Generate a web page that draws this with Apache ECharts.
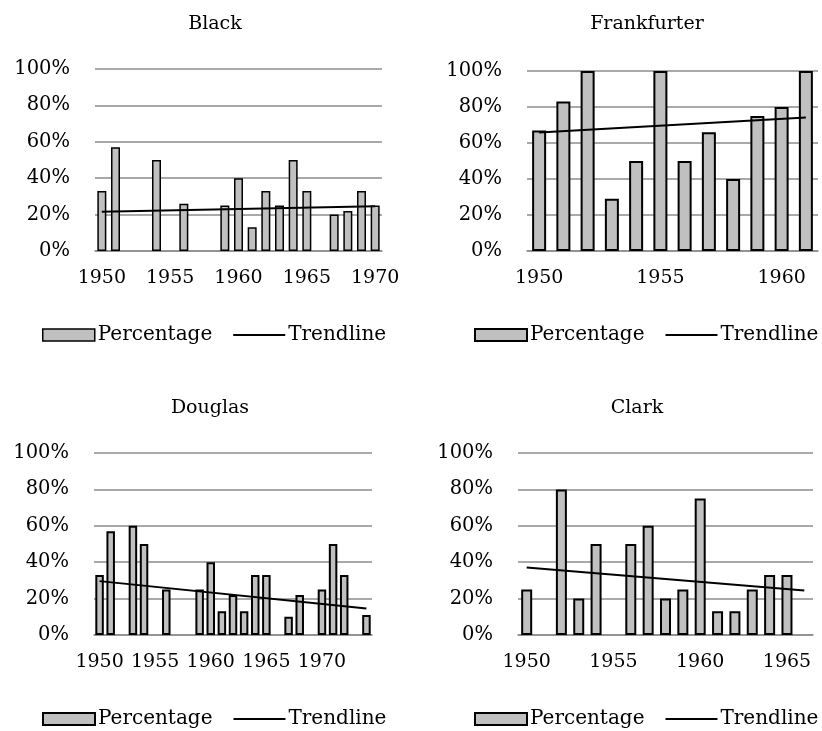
<!DOCTYPE html>
<html>
<head>
<meta charset="utf-8">
<script src="https://cdn.jsdelivr.net/npm/echarts@6/dist/echarts.min.js"></script>
<style>
  html, body { margin: 0; padding: 0; background: #fff; }
  #main { width: 822px; height: 731px; }
</style>
</head>
<body>
<div id="main"></div>
<script>
// years on each panel
var blackYears = ['1950','1951','1952','1953','1954','1955','1956','1957','1958','1959','1960',
  '1961','1962','1963','1964','1965','1966','1967','1968','1969','1970'];
var frankYears = ['1950','1951','1952','1953','1954','1955','1956','1957','1958','1959','1960','1961'];
var douglasYears = ['1950','1951','1952','1953','1954','1955','1956','1957','1958','1959','1960',
  '1961','1962','1963','1964','1965','1966','1967','1968','1969','1970','1971','1972','1973','1974'];
var clarkYears = ['1950','1951','1952','1953','1954','1955','1956','1957','1958','1959','1960',
  '1961','1962','1963','1964','1965','1966'];

// percentage per year (null = no bar)
var blackValues = [33, 57, null, null, 50, null, 26, null, null, 25, 40,
  13, 33, 25, 50, 33, null, 20, 22, 33, 25];
var frankValues = [67, 83, 100, 29, 50, 100, 50, 66, 40, 75, 80, 100];
var douglasValues = [33, 57, null, 60, 50, null, 25, null, null, 25, 40,
  13, 22, 13, 33, 33, null, 10, 22, null, 25, 50, 33, null, 11];
var clarkValues = [25, null, 80, 20, 50, null, 50, 60, 20, 25, 75,
  13, 13, 25, 33, 33, null];

// trendline start / end values
var blackTrend = [21.5, 24.6];
var frankTrend = [65.9, 74.2];
var douglasTrend = [29.6, 14.6];
var clarkTrend = [37.1, 24.5];

var yTicks = [0, 20, 40, 60, 80, 100];

var FONT = 'DejaVu Serif';
var chart = echarts.init(document.getElementById('main'));

var panels = [
  { name: 'Black', years: blackYears, values: blackValues, trend: blackTrend,
    grid: { left: 95, top: 69, width: 287, height: 182 }, titleX: 210, titleY: 10,
    barWidth: 9, border: 1.5, legend: { left: 37, top: 320 } },
  { name: 'Frankfurter', years: frankYears, values: frankValues, trend: frankTrend,
    grid: { left: 527, top: 71, width: 291, height: 180 }, titleX: 642, titleY: 10,
    barWidth: 14, border: 2, legend: { left: 469, top: 320 } },
  { name: 'Douglas', years: douglasYears, values: douglasValues, trend: douglasTrend,
    grid: { left: 94, top: 453, width: 278, height: 182 }, titleX: 205, titleY: 394,
    barWidth: 8.5, border: 2, legend: { left: 37, top: 704 } },
  { name: 'Clark', years: clarkYears, values: clarkValues, trend: clarkTrend,
    grid: { left: 518, top: 453, width: 295, height: 182 }, titleX: 632, titleY: 394,
    barWidth: 11, border: 2, legend: { left: 469, top: 704 } }
];

var option = {
  backgroundColor: '#ffffff',
  animation: false,
  title: [],
  legend: [],
  grid: [],
  xAxis: [],
  yAxis: [],
  series: []
};

panels.forEach(function (p, i) {
  option.title.push({
    text: p.name,
    left: p.titleX,
    top: p.titleY,
    textAlign: 'center',
    textStyle: { fontFamily: FONT, fontSize: 19, fontWeight: 'normal', color: '#000' }
  });
  option.grid.push(p.grid);
  option.xAxis.push({
    type: 'category',
    gridIndex: i,
    data: p.years,
    axisTick: { show: false },
    axisLine: { lineStyle: { color: '#8c8c8c', width: 1.5 } },
    axisLabel: {
      interval: 4,
      margin: 18,
      color: '#000',
      fontFamily: FONT,
      fontSize: 19
    }
  });
  option.yAxis.push({
    type: 'value',
    gridIndex: i,
    min: yTicks[0],
    max: yTicks[yTicks.length - 1],
    interval: 20,
    axisLine: { show: false },
    axisTick: { show: false },
    splitLine: { lineStyle: { color: '#8c8c8c', width: 1.5 } },
    axisLabel: {
      formatter: '{value}%',
      margin: 25,
      color: '#000',
      fontFamily: FONT,
      fontSize: 19.5
    }
  });
  option.series.push({
    name: 'Percentage',
    type: 'bar',
    xAxisIndex: i,
    yAxisIndex: i,
    barWidth: p.barWidth,
    data: p.values,
    itemStyle: { color: '#c0c0c0', borderColor: '#000', borderWidth: p.border }
  });
  option.series.push({
    name: 'Trendline',
    type: 'line',
    xAxisIndex: i,
    yAxisIndex: i,
    symbol: 'none',
    data: [[p.years[0], p.trend[0]], [p.years[p.years.length - 1], p.trend[1]]],
    lineStyle: { color: '#000', width: 2 },
    z: 5
  });
  option.legend.push({
    left: p.legend.left,
    top: p.legend.top,
    width: 420,
    itemWidth: 52,
    itemHeight: 12,
    itemGap: 20,
    selectedMode: false,
    textStyle: { fontFamily: FONT, fontSize: 20, color: '#000', padding: [0, 0, 0, -2] },
    data: [
      { name: 'Percentage', icon: 'rect',
        itemStyle: { color: '#c0c0c0', borderColor: '#000', borderWidth: p.border } },
      { name: 'Trendline', itemStyle: { opacity: 0 }, lineStyle: { color: '#000', width: 2 } }
    ]
  });
});

chart.setOption(option);
</script>
</body>
</html>
